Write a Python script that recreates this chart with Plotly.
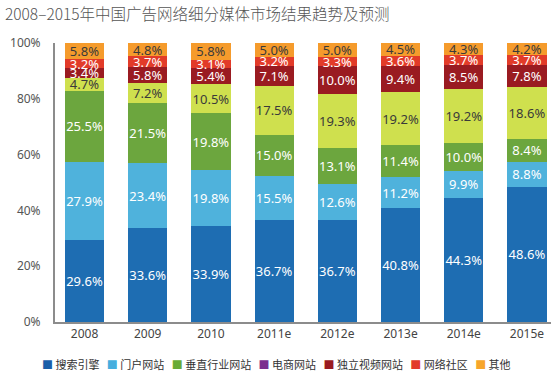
import plotly.graph_objects as go

years = ["2008", "2009", "2010", "2011e", "2012e", "2013e", "2014e", "2015e"]
series_names = ["搜索引擎", "门户网站", "垂直行业网站", "电商网站", "独立视频网站", "网络社区", "其他"]
search = [29.6, 33.6, 33.9, 36.7, 36.7, 40.8, 44.3, 48.6]
portal = [27.9, 23.4, 19.8, 15.5, 12.6, 11.2, 9.9, 8.8]
vertical = [25.5, 21.5, 19.8, 15.0, 13.1, 11.4, 10.0, 8.4]
ecommerce = [4.7, 7.2, 10.5, 17.5, 19.3, 19.2, 19.2, 18.6]
video = [3.4, 5.8, 5.4, 7.1, 10.0, 9.4, 8.5, 7.8]
community = [3.2, 3.7, 3.1, 3.2, 3.3, 3.6, 3.7, 3.7]
other = [5.8, 4.8, 5.8, 5.0, 5.0, 4.5, 4.3, 4.2]
y_ticks = [0, 20, 40, 60, 80, 100]
y_tick_labels = ["0%", "20%", "40%", "60%", "80%", "100%"]

series_values = [search, portal, vertical, ecommerce, video, community, other]
bar_colors = ["#1e6db2", "#4fb2dc", "#6ca63e", "#cfe04e", "#9a1b21", "#e23b29", "#f59b2c"]
text_colors = ["white", "white", "white", "#3a3a3a", "white", "white", "#3a3a3a"]
legend_colors = ["#1b5ea8", "#45aede", "#6aab36", "#7a2f8f", "#9a1b21", "#e23b29", "#f7a52b"]

fig = go.Figure()
for name, vals, col, tcol in zip(series_names, series_values, bar_colors, text_colors):
    fig.add_trace(go.Bar(
        x=years, y=vals, name=name,
        marker=dict(color=col, line=dict(width=0)),
        text=[f"{v:.1f}%" for v in vals],
        textposition="inside", insidetextanchor="middle", textangle=0,
        textfont=dict(color=tcol, size=13, family="Noto Sans"),
        width=0.62, showlegend=False, cliponaxis=False, hoverinfo="skip",
    ))

legend_text = "&nbsp;&nbsp;&nbsp;".join(
    f"<span style='color:{c}'>■</span> {n}" for n, c in zip(series_names, legend_colors)
)

fig.update_layout(
    width=555, height=383,
    barmode="stack", barnorm="percent",
    hovermode=False,
    margin=dict(l=55, r=4, t=43, b=61, autoexpand=False),
    paper_bgcolor="white", plot_bgcolor="white",
    font=dict(family="Noto Sans, Noto Sans CJK SC", color="#444"),
    uniformtext=dict(mode="show", minsize=13),
    title=dict(
        text="2008–2015年中国广告网络细分媒体市场结果趋势及预测",
        x=0.009, xref="container", xanchor="left",
        y=0.963, yref="container", yanchor="middle",
        font=dict(family="Noto Sans CJK SC", size=15.5, color="#555", weight=300),
        automargin=False,
    ),
    xaxis=dict(
        type="category", range=[-0.467, 7.38], automargin=False, fixedrange=True,
        showline=True, linecolor="#8c8c8c", linewidth=2,
        ticks="", tickfont=dict(size=12, color="#444"),
        showgrid=False, zeroline=False,
    ),
    yaxis=dict(
        range=[0, 100.02], tickmode="array", tickvals=y_ticks, ticktext=y_tick_labels,
        automargin=False, fixedrange=True,
        showline=True, linecolor="#8c8c8c", linewidth=2,
        ticks="", ticklabelstandoff=10,
        tickfont=dict(size=12, color="#555"),
        showgrid=False, zeroline=False,
    ),
    annotations=[dict(
        text=legend_text, xref="paper", yref="paper",
        x=-0.03, y=-0.152, xanchor="left", yanchor="middle",
        showarrow=False,
        font=dict(family="Noto Sans CJK SC", size=11, color="#333"),
    )],
)

fig.write_html(
    "out.html",
    config={"displayModeBar": False, "staticPlot": True},
    post_script="document.body.style.margin='0';",
)
